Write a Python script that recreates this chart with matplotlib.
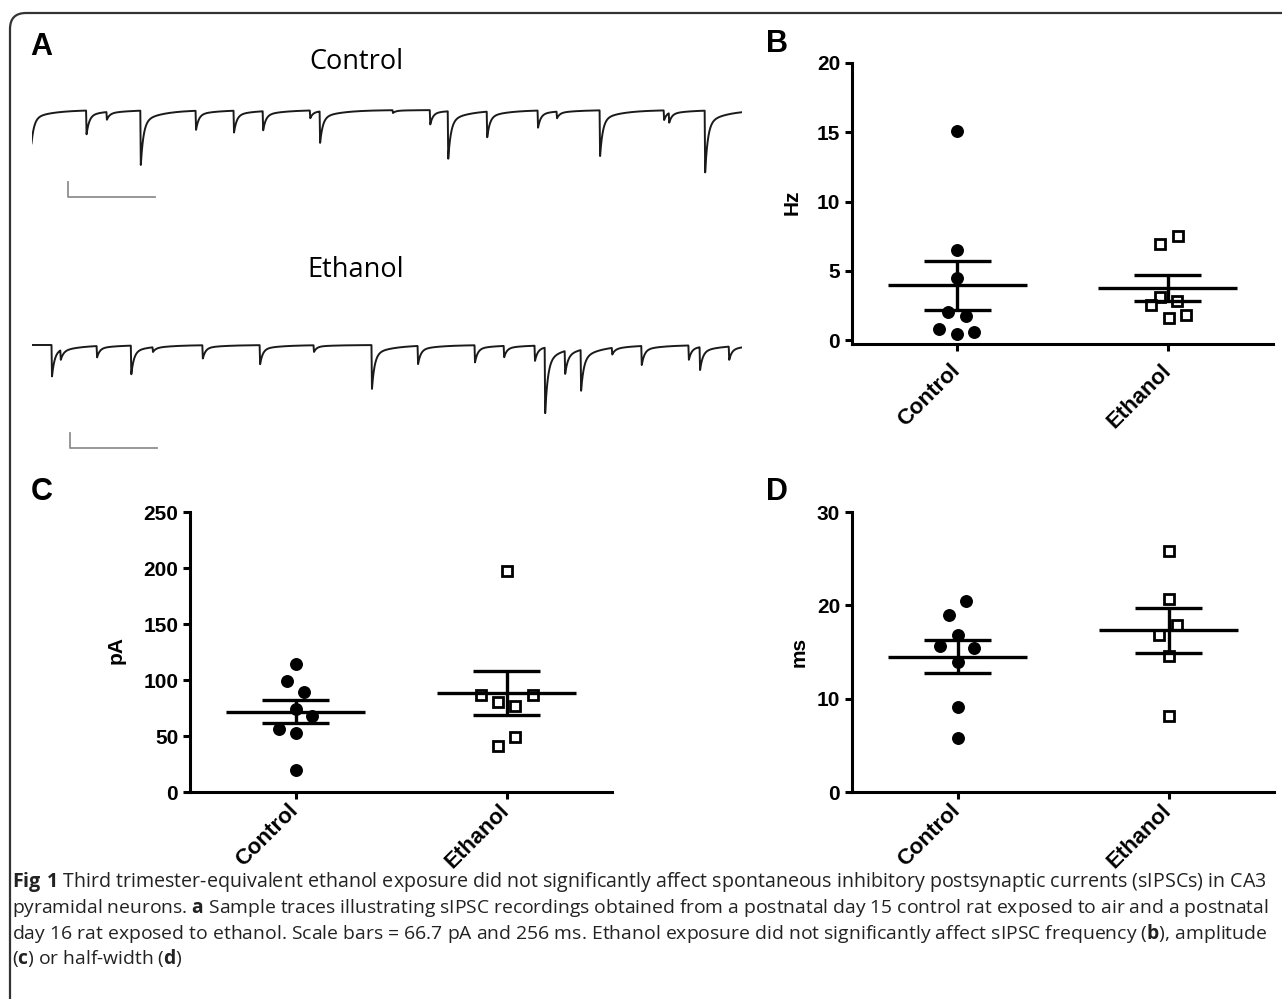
import numpy as np
import matplotlib.pyplot as plt
from matplotlib.patches import FancyBboxPatch
from matplotlib.transforms import IdentityTransform

W, H = 1282, 999

groups = ['Control', 'Ethanol']

# sIPSC frequency (Hz)
hz_control = [15.1, 6.5, 4.5, 2.0, 1.7, 0.8, 0.4, 0.55]
hz_ethanol = [7.5, 6.9, 3.1, 2.8, 2.5, 1.8, 1.6]
# sIPSC amplitude (pA)
pa_control = [114, 99, 89, 74, 68, 56, 53, 20]
pa_ethanol = [197, 87, 87, 80, 77, 49, 41]
# sIPSC half-width (ms)
ms_control = [20.5, 19.0, 16.8, 15.6, 15.4, 13.9, 9.1, 5.8]
ms_ethanol = [25.8, 20.7, 17.9, 16.8, 14.6, 8.1]

# horizontal spread of the dots (category units)
hz_ctrl_jit = [0, 0, 0, -0.043, 0.04, -0.085, 0, 0.08]
hz_etoh_jit = [0.05, -0.035, -0.035, 0.045, -0.08, 0.085, 0.005]
pa_ctrl_jit = [0, -0.04, 0.04, 0, 0.08, -0.08, 0, 0]
pa_etoh_jit = [0, -0.12, 0.124, -0.04, 0.04, 0.04, -0.04]
ms_ctrl_jit = [0.04, -0.04, 0, -0.083, 0.08, 0, 0, 0]
ms_etoh_jit = [0, 0, 0.038, -0.045, 0, 0]

# sample traces: event onset (ms) and peak amplitude (pA)
ctrl_ev_t = [-3, 162, 222, 322, 485, 597, 683, 822, 851, 1066, 1176, 1229,
             1344, 1494, 1550, 1677, 1866, 1881, 1987]
ctrl_ev_amp = [200, 111, 36, 254, 89, 102, 89, 36, 147, 13, 67, 222,
               120, 80, 31, 214, 45, 45, 289]
etoh_ev_t = [60, 86, 193, 294, 358, 505, 674, 833, 1004, 1140, 1308, 1394,
             1485, 1515, 1574, 1621, 1713, 1800, 1939, 1972, 2058]
etoh_ev_amp = [147, 45, 53, 134, 22, 62, 89, 31, 205, 85, 80, 53,
               71, 307, 107, 191, 31, 89, 67, 107, 62]
trace_ms = 2095
scale_ms = 256
scale_pA = 66.7

fig = plt.figure(figsize=(W / 100, H / 100), dpi=100)


def px_axes(x0, y0, x1, y1):
    return fig.add_axes([x0 / W, 1 - y1 / H, (x1 - x0) / W, (y1 - y0) / H])


# outer frame
frame = FancyBboxPatch((10, -30), W + 10, H - 13 + 30,
                       boxstyle='round,pad=0,rounding_size=16',
                       transform=IdentityTransform(), fill=False,
                       ec='#333333', lw=1.6)
fig.add_artist(frame)

letter_kw = dict(fontsize=22, fontweight='bold', family='Liberation Sans',
                 ha='center', va='center')
fig.text(41 / W, 1 - 47 / H, 'A', **letter_kw)
fig.text(777 / W, 1 - 44 / H, 'B', **letter_kw)
fig.text(42 / W, 1 - 492 / H, 'C', **letter_kw)
fig.text(777 / W, 1 - 492 / H, 'D', **letter_kw)

# ---- panel A: traces ----
dt = 0.5
t = np.arange(0, trace_ms + dt, dt)


def build_trace(ev_t, ev_amp):
    y = np.zeros_like(t)
    for t0, a in zip(ev_t, ev_amp):
        s = t - t0
        k = (0.8 * np.exp(-np.clip(s, 0, None) / 8)
             + 0.2 * np.exp(-np.clip(s, 0, None) / 60))
        k = k * np.clip((s + 1.0) / 1.5, 0, 1)
        k[s < -1.0] = 0
        y -= a * k
    return y


trace_sets = [
    (ctrl_ev_t, ctrl_ev_amp, (31.5, 100, 741.6, 200), (-400.5, 44.5),
     109, -387, 'Control', 62),
    (etoh_ev_t, etoh_ev_amp, (31.5, 330, 741.6, 460), (-511.75, 66.75),
     114.5, -458, 'Ethanol', 270),
]
for ev_t, ev_amp, box, ylim, sb_t, sb_y, name, ty in trace_sets:
    ax = px_axes(*box)
    ax.plot(t, build_trace(ev_t, ev_amp), color='#1a1a1a', lw=1.4)
    ax.plot([sb_t, sb_t, sb_t + scale_ms], [sb_y + scale_pA, sb_y, sb_y],
            color='#8f8f8f', lw=1.3)
    ax.set_xlim(0, trace_ms)
    ax.set_ylim(*ylim)
    ax.axis('off')
    fig.text(356 / W, 1 - ty / H, name, fontsize=19.5, family='Open Sans',
             ha='center', va='center')


# ---- panels B, C, D: dot plots ----
def dot_plot(box, ctrl, etoh, cj, ej, ylim, yticks, ylabel, lab_xy, xpad):
    ax = px_axes(*box)
    for i, (vals, jit) in enumerate([(ctrl, cj), (etoh, ej)]):
        vals = np.asarray(vals, float)
        x = i + np.asarray(jit)
        if i == 0:
            ax.plot(x, vals, 'o', ms=8.3, color='black', zorder=3, clip_on=False)
        else:
            ax.plot(x, vals, 's', ms=7.5, mfc='white', mec='black', mew=2.0,
                    zorder=3, clip_on=False)
        m = vals.mean()
        sem = vals.std(ddof=1) / np.sqrt(len(vals))
        kw = dict(color='black', lw=2.4, zorder=4, solid_capstyle='butt')
        ax.plot([i - 0.33, i + 0.33], [m, m], **kw)
        ax.plot([i - 0.16, i + 0.16], [m + sem, m + sem], **kw)
        ax.plot([i - 0.16, i + 0.16], [m - sem, m - sem], **kw)
        ax.plot([i, i], [m - sem, m + sem], **kw)
    ax.set_xlim(-0.5, 1.5)
    ax.set_ylim(*ylim)
    ax.set_yticks(yticks)
    ax.set_xticks([0, 1])
    ax.set_xticklabels(groups, rotation=45, ha='right', va='center',
                       rotation_mode='anchor', fontweight='bold', fontsize=16,
                       family='Liberation Sans')
    for lb in ax.get_yticklabels():
        lb.set_fontweight('bold')
        lb.set_fontsize(15)
        lb.set_family('Liberation Sans')
    ax.spines[['top', 'right']].set_visible(False)
    ax.spines[['left', 'bottom']].set_linewidth(2.2)
    ax.tick_params(axis='y', width=2.2, length=5, pad=3.5)
    ax.tick_params(axis='x', width=2.2, length=5, pad=xpad)
    ax.patch.set_visible(False)
    fig.text(lab_xy[0] / W, 1 - lab_xy[1] / H, ylabel, rotation=90,
             fontsize=15, fontweight='bold', family='Liberation Sans',
             ha='center', va='center')
    return ax


dot_plot((852, 63, 1273, 343.5), hz_control, hz_ethanol, hz_ctrl_jit,
         hz_etoh_jit, (-0.25, 20), [0, 5, 10, 15, 20], 'Hz', (792, 202), 12.5)
dot_plot((190, 512, 612, 792), pa_control, pa_ethanol, pa_ctrl_jit,
         pa_etoh_jit, (0, 250), [0, 50, 100, 150, 200, 250], 'pA', (116, 650),
         6)
dot_plot((852, 512, 1274, 792), ms_control, ms_ethanol, ms_ctrl_jit,
         ms_etoh_jit, (0, 30), [0, 10, 20, 30], 'ms', (799, 652), 6)

# ---- caption ----
plt.rcParams['mathtext.fontset'] = 'custom'
plt.rcParams['mathtext.rm'] = 'Open Sans'
plt.rcParams['mathtext.bf'] = 'Open Sans:bold'

caption = [
    r'$\mathbf{Fig\ 1}$ Third trimester-equivalent ethanol exposure did not '
    r'significantly affect spontaneous inhibitory postsynaptic currents '
    r'(sIPSCs) in CA3',
    r'pyramidal neurons. $\mathbf{a}$ Sample traces illustrating sIPSC '
    r'recordings obtained from a postnatal day 15 control rat exposed to air '
    r'and a postnatal',
    r'day 16 rat exposed to ethanol. Scale bars = 66.7 pA and 256 ms. Ethanol '
    r'exposure did not significantly affect sIPSC frequency ($\mathbf{b}$), '
    r'amplitude',
    r'($\mathbf{c}$) or half-width ($\mathbf{d}$)',
]
cap_y = [887, 913, 939, 964]
renderer = fig.canvas.get_renderer()
sizes = []
for line in caption[:3]:
    probe = fig.text(0, 0, line, fontsize=12, family='Open Sans')
    sizes.append(12 * 1251 / probe.get_window_extent(renderer).width)
    probe.remove()
sizes.append(min(sizes))
for line, y, sz in zip(caption, cap_y, sizes):
    fig.text(12 / W, 1 - y / H, line, fontsize=sz, family='Open Sans',
             ha='left', va='baseline', color='#222222')

fig.savefig('out.png', dpi=100)
